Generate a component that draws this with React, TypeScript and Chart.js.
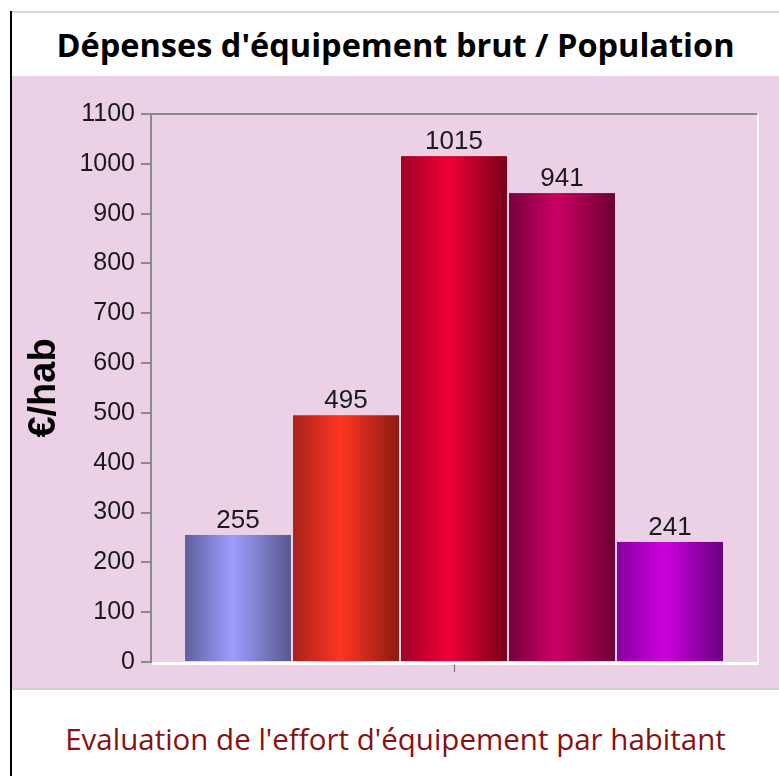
import React, { useEffect, useRef } from 'react';
import { Chart, registerables } from 'chart.js';

Chart.register(...registerables);

const categories: string[] = [''];
const seriesNames: string[] = ['Série 1', 'Série 2', 'Série 3', 'Série 4', 'Série 5'];
const seriesValues: number[] = [255, 495, 1015, 941, 241];
const yTickValues: number[] = [0, 100, 200, 300, 400, 500, 600, 700, 800, 900, 1000, 1100];
const barLeftColors: string[] = ['#5f5fa0', '#a8221a', '#a00028', '#78003c', '#8800a0'];
const barMidColors: string[] = ['#9e9eff', '#ff3422', '#ee0034', '#cc0064', '#cc00de'];
const barRightColors: string[] = ['#58588e', '#8a1c12', '#780018', '#6c0034', '#680080'];

const TITLE = "Dépenses d'équipement brut / Population";
const SUBTITLE = "Evaluation de l'effort d'équipement par habitant";
const Y_TITLE = '€/hab';

const PINK = '#ecd0e6';
const ARIAL = '"Liberation Sans", Arial, sans-serif';

const decorPlugin = {
  id: 'decor',
  afterDatasetsDraw(chart: any) {
    const ctx: CanvasRenderingContext2D = chart.ctx;
    const area = chart.chartArea;
    ctx.save();
    chart.data.datasets.forEach((ds: any, i: number) => {
      const meta = chart.getDatasetMeta(i);
      meta.data.forEach((el: any, j: number) => {
        const { x, y, base, width } = el.getProps(['x', 'y', 'base', 'width'], true);
        const l = x - width / 2;
        const g = ctx.createLinearGradient(l, 0, l + width, 0);
        g.addColorStop(0, barLeftColors[i]);
        g.addColorStop(0.45, barMidColors[i]);
        g.addColorStop(1, barRightColors[i]);
        ctx.fillStyle = g;
        ctx.fillRect(l, y, width, base - y);
        ctx.fillStyle = '#1a1a1a';
        ctx.font = `26px ${ARIAL}`;
        ctx.textAlign = 'center';
        ctx.textBaseline = 'alphabetic';
        ctx.fillText(String(ds.data[j]), x, y - 7);
      });
    });
    // frame: gray top, white right & bottom
    ctx.fillStyle = '#8a8a8a';
    ctx.fillRect(area.left, area.top - 1, area.right - area.left, 2);
    ctx.fillStyle = '#ffffff';
    ctx.fillRect(area.right, area.top + 1, 2, area.bottom - area.top + 2);
    ctx.fillRect(area.left + 1, area.bottom, area.right - area.left + 1, 3);
    ctx.restore();
  },
};

export default function App() {
  const canvasRef = useRef<HTMLCanvasElement | null>(null);

  useEffect(() => {
    if (!canvasRef.current) return;
    const chart = new Chart(canvasRef.current, {
      type: 'bar',
      data: {
        labels: categories,
        datasets: seriesValues.map((v, i) => ({
          label: seriesNames[i],
          data: [v],
          backgroundColor: barMidColors[i],
          borderWidth: 0,
          categoryPercentage: 0.891,
          barPercentage: 0.98,
        })),
      },
      options: {
        animation: false,
        responsive: false,
        maintainAspectRatio: false,
        layout: { padding: { left: 0, right: 22, top: 38, bottom: 0 } },
        plugins: {
          legend: { display: false },
          tooltip: { enabled: false },
          title: { display: false },
        },
        scales: {
          x: {
            grid: {
              display: true,
              drawOnChartArea: false,
              drawTicks: true,
              tickLength: 10,
              color: '#666666',
              offset: false,
              lineWidth: 1,
            },
            border: { display: false },
            ticks: { display: false },
            afterFit: (s: any) => {
              s.height = 26;
            },
          },
          y: {
            min: 0,
            max: 1100,
            afterBuildTicks: (s: any) => {
              s.ticks = yTickValues.map((v) => ({ value: v }));
            },
            ticks: {
              color: '#1a1a1a',
              font: { family: ARIAL, size: 25 },
              padding: 6,
              callback: (v: any) => String(v),
            },
            grid: {
              drawOnChartArea: false,
              drawTicks: true,
              tickLength: 10,
              color: '#8a8a8a',
              lineWidth: 2,
            },
            border: { display: true, color: '#8a8a8a', width: 2 },
            title: {
              display: true,
              text: Y_TITLE,
              color: '#000000',
              font: { family: ARIAL, size: 38, weight: 'bold' },
              padding: { top: 10, bottom: 0 },
            },
            afterFit: (s: any) => {
              s.width = 139;
            },
          },
        },
      } as any,
      plugins: [decorPlugin],
    });
    return () => chart.destroy();
  }, []);

  return (
    <div
      style={{
        position: 'absolute',
        left: 0,
        top: 0,
        width: 779,
        height: 776,
        background: '#ffffff',
        overflow: 'hidden',
      }}
    >
      <div style={{ position: 'absolute', left: 12, top: 11, width: 767, height: 2, background: '#d6d6d6' }} />
      <div style={{ position: 'absolute', left: 10, top: 11, width: 2, height: 765, background: '#000000' }} />
      <div
        style={{
          position: 'absolute',
          left: 12,
          top: 13,
          width: 767,
          height: 63,
          display: 'flex',
          alignItems: 'center',
          justifyContent: 'center',
          fontFamily: '"Open Sans", sans-serif',
          fontWeight: 700,
          fontSize: 32.5,
          color: '#000000',
          whiteSpace: 'nowrap',
        }}
      >
        {TITLE}
      </div>
      <div style={{ position: 'absolute', left: 12, top: 76, width: 767, height: 612, background: PINK }}>
        <canvas ref={canvasRef} width={767} height={612} style={{ display: 'block', width: 767, height: 612 }} />
      </div>
      <div style={{ position: 'absolute', left: 12, top: 688, width: 767, height: 2, background: '#d2d2d2' }} />
      <div
        style={{
          position: 'absolute',
          left: 12,
          top: 695,
          width: 767,
          height: 86,
          display: 'flex',
          alignItems: 'center',
          justifyContent: 'center',
          fontFamily: '"Open Sans", sans-serif',
          fontWeight: 400,
          fontSize: 29.5,
          color: '#8c0f0f',
          whiteSpace: 'nowrap',
        }}
      >
        {SUBTITLE}
      </div>
    </div>
  );
}
